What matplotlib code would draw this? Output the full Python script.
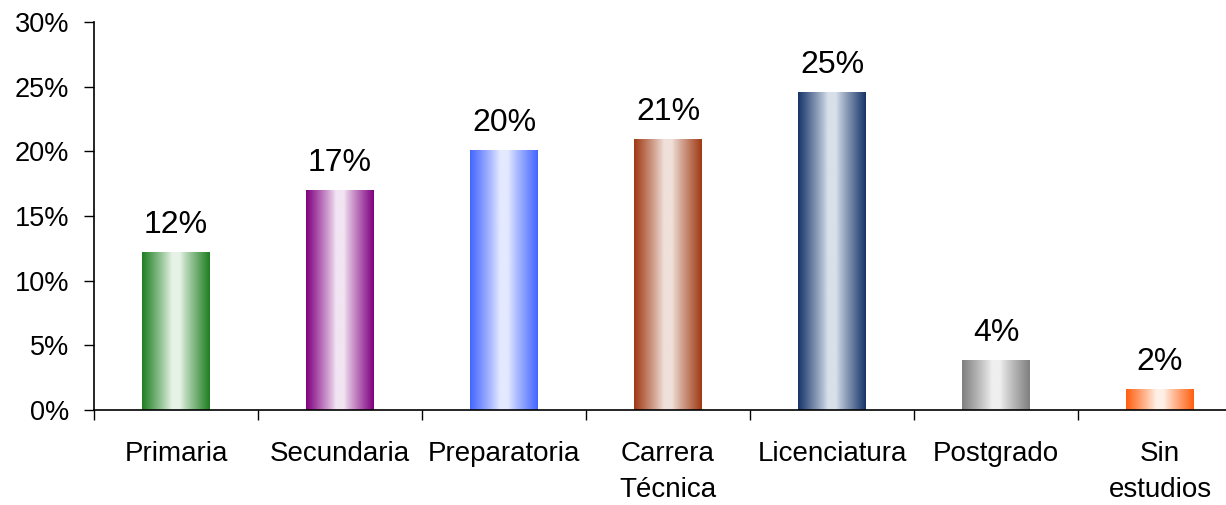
import numpy as np
import matplotlib
matplotlib.use("Agg")
import matplotlib.pyplot as plt
from matplotlib.colors import to_rgb
from matplotlib.ticker import FuncFormatter, FixedLocator

plt.rcParams['font.family'] = ['Liberation Sans', 'DejaVu Sans']

categories = ["Primaria", "Secundaria", "Preparatoria", "Carrera\nTécnica",
              "Licenciatura", "Postgrado", "Sin\nestudios"]
values = [0.1214, 0.1694, 0.2003, 0.2088, 0.2452, 0.0379, 0.0155]
edge_colors = ["#1f7f22", "#800080", "#4466ff", "#a03a14", "#17356a", "#7f7f7f", "#ff5f10"]
center_colors = ["#e6f2e6", "#f2e4f2", "#e4e9ff", "#f0e0da", "#d8e0ea", "#efefef", "#fff0e6"]

fig = plt.figure(figsize=(12.26, 5.05), dpi=100)
W, H = 1226, 505
ax = fig.add_axes([94 / W, (H - 410) / H, 1148 / W, 388 / H])

n = len(categories)
x = np.arange(n)
bar_w = 0.41

# column profile: dark at both sides, light in the middle
cols = 200
u = np.linspace(0, 1, cols)
t = np.clip((np.abs(u - 0.5) * 2 - 0.12) / 0.88, 0, 1) ** 0.9

bars = ax.bar(x, values, width=bar_w, color="none", edgecolor="none", zorder=2)
for b, ec, cc in zip(bars, edge_colors, center_colors):
    e = np.array(to_rgb(ec))
    c = np.array(to_rgb(cc))
    grad = c[None, :] + (e - c)[None, :] * t[:, None]
    img = grad[None, :, :]
    x0, y0 = b.get_x(), b.get_y()
    ax.imshow(img, extent=[x0, x0 + b.get_width(), y0, y0 + b.get_height()],
              aspect="auto", interpolation="bilinear", zorder=2)

for xi, v in zip(x, values):
    ax.annotate(f"{v:.0%}", (xi, v), xytext=(0, 14.5), textcoords="offset points",
                ha="center", va="baseline", fontsize=23, color="black")

ax.set_xlim(-0.5, n - 0.5)
ax.set_ylim(0, 0.30)
ax.set_yticks(np.arange(0, 0.301, 0.05))
ax.yaxis.set_major_formatter(FuncFormatter(lambda v, p: f"{v:.0%}"))
ax.tick_params(axis="y", labelsize=19.5, length=7, width=1, pad=11, direction="out")

ax.xaxis.set_major_locator(FixedLocator(np.arange(-0.5, n, 1.0)))
ax.xaxis.set_minor_locator(FixedLocator(x))
ax.set_xticklabels([], minor=False)
ax.set_xticklabels(categories, minor=True, fontsize=20, linespacing=1.5, va="top")
ax.tick_params(axis="x", which="major", length=7, width=1, direction="out")
ax.tick_params(axis="x", which="minor", length=0, pad=22)

for s in ["top", "right"]:
    ax.spines[s].set_visible(False)
for s in ["left", "bottom"]:
    ax.spines[s].set_linewidth(1.2)
    ax.spines[s].set_color("black")

fig.savefig("out.png", dpi=100)
